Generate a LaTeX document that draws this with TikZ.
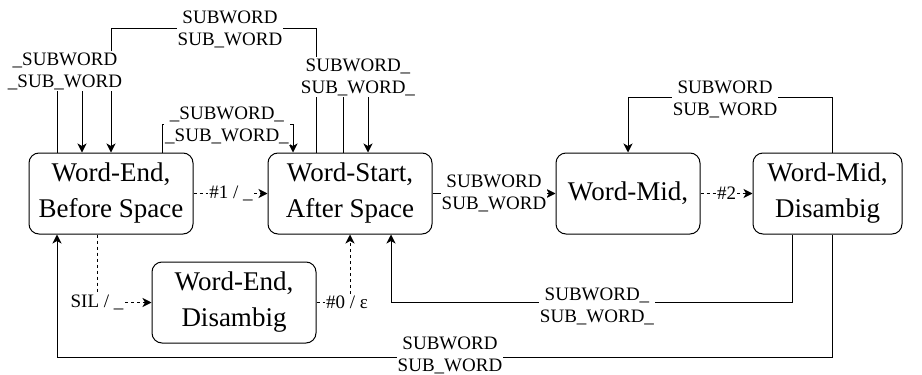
\documentclass[tikz,border=0pt]{standalone}
\usepackage{fontspec}
\setmainfont{LiberationSerif}[Extension=.ttf,UprightFont=*-Regular,BoldFont=*-Bold]
\usepackage{tikz}
\usetikzlibrary{arrows.meta}

\begin{document}
\begin{tikzpicture}[x=1pt,y=-1pt,
stbox/.style={draw,rectangle,rounded corners=10pt,line width=1pt,minimum height=81pt,align=center,font=\rmfamily\fontsize{27}{36}\selectfont},
lbl/.style={fill=white,inner sep=1pt,align=center,font=\rmfamily\fontsize{19}{22}\selectfont},
arr/.style={line width=1pt,-{Stealth[length=9pt,width=9pt,inset=2.5pt]}},
dsh/.style={arr,dash pattern=on 3pt off 3pt}]
\useasboundingbox (0,0) rectangle (922,375);

\node (wend) [stbox,minimum width=164pt] at (111,193.5) {Word-End,\\Before Space};
\node (wstart) [stbox,minimum width=164pt] at (350,193.5) {Word-Start,\\After Space};
\node (wenddis) [stbox,minimum width=164pt] at (234,302.5) {Word-End,\\Disambig};
\node (wmid) [stbox,minimum width=144pt] at (628,193.5) {Word-Mid,};
\node (wmiddis) [stbox,minimum width=149pt] at (827.5,193.5) {Word-Mid,\\Disambig};

\draw[arr] ([xshift=-54pt]wend.north) -- ++(0,-80) -| ([xshift=-29pt]wend.north);
\draw[arr] ([xshift=-34pt]wstart.north) -- ++(0,-124) -| (wend.north);
\draw[arr] ([xshift=51pt]wend.north) -- ++(0,-28) -| ([xshift=-57pt]wstart.north);
\draw[arr] ([xshift=-7pt]wstart.north) -- ++(0,-80) -| ([xshift=18pt]wstart.north);
\draw[dsh] (wend.east) -- (wstart.west);
\draw[arr] (wstart.east) -- (wmid.west);
\draw[dsh] (wmid.east) -- (wmiddis.west);
\draw[arr] ([xshift=4.5pt]wmiddis.north) -- ++(0,-55) -| (wmid.north);
\draw[arr] ([xshift=-35.5pt]wmiddis.south) -- ++(0,68) -| ([xshift=41pt]wstart.south);
\draw[arr] ([xshift=4.5pt]wmiddis.south) -- ++(0,123) -| ([xshift=-54pt]wend.south);
\draw[dsh] ([xshift=-14pt]wend.south) |- (wenddis.west);
\draw[dsh] (wenddis.east) -| (wstart.south);

\node (lselfend) [lbl] at (65,71) {\_SUBWORD\\\_SUB\_WORD};
\node (lback) [lbl] at (230,29) {SUBWORD\\SUB\_WORD};
\node (lcross) [lbl] at (227,125) {\_SUBWORD\_\\\_SUB\_WORD\_};
\node (lselfstart) [lbl] at (358,77) {SUBWORD\_\\SUB\_WORD\_};
\node (lone) [lbl] at (231,193.5) {\#1 / \_};
\node (lfwd) [lbl] at (494,193.5) {SUBWORD\\SUB\_WORD};
\node (ltwo) [lbl] at (726.5,193.5) {\#2};
\node (lselfmid) [lbl] at (725,99) {SUBWORD\\SUB\_WORD};
\node (lmidback) [lbl] at (597,306) {SUBWORD\_\\SUB\_WORD\_};
\node (lbottom) [lbl] at (450,355) {SUBWORD\\SUB\_WORD};
\node (lsil) [lbl] at (97,302.5) {SIL / \_};
\node (lzero) [lbl] at (347,302.5) {\#0 / ε};
\end{tikzpicture}
\end{document}
